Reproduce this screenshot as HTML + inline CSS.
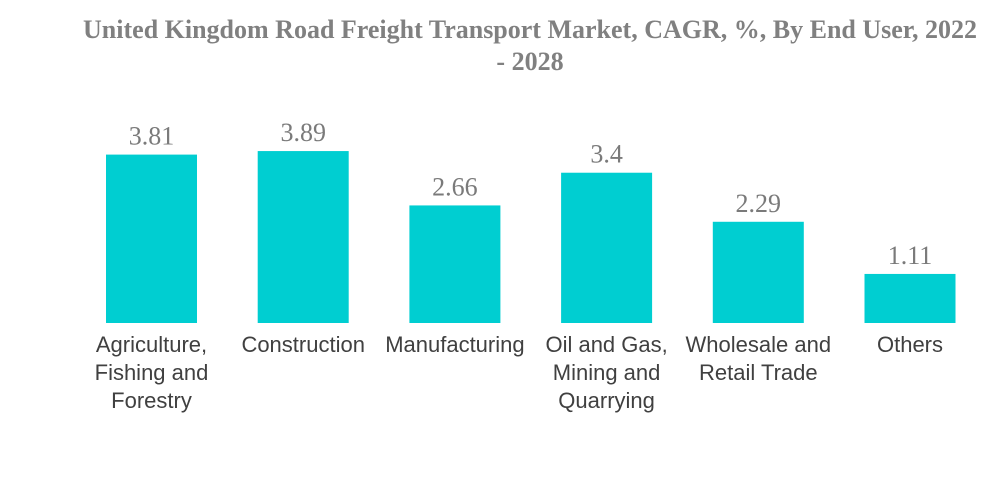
<!DOCTYPE html>
<html><head><meta charset="utf-8"><style>
body{margin:0;background:#fff;width:1000px;height:483px;overflow:hidden}
</style></head><body>
<svg id="chart" width="1000" height="483" xmlns="http://www.w3.org/2000/svg">
<text x="530" y="38" text-anchor="middle" font-family="Liberation Serif, serif" font-weight="bold" font-size="26" fill="#808080">United Kingdom Road Freight Transport Market, CAGR, %, By End User, 2022</text>
<text x="530" y="70" text-anchor="middle" font-family="Liberation Serif, serif" font-weight="bold" font-size="26" fill="#808080">- 2028</text>
<g id="bars"></g>
</svg>
<script>
const categories = [["Agriculture,","Fishing and","Forestry"],["Construction"],["Manufacturing"],["Oil and Gas,","Mining and","Quarrying"],["Wholesale and","Retail Trade"],["Others"]];
const values = [3.81, 3.89, 2.66, 3.4, 2.29, 1.11];
const valueLabels = ["3.81","3.89","2.66","3.4","2.29","1.11"];
const NS="http://www.w3.org/2000/svg";
const baseY=323, pxPerUnit=44.2, x0=106, step=151.7, bw=91;
function xPos(i){return x0+i*step;}
function yPos(v){return baseY-v*pxPerUnit;}
const g=document.getElementById('bars');
values.forEach((v,i)=>{
  const r=document.createElementNS(NS,'rect');
  r.setAttribute('x',xPos(i));r.setAttribute('y',yPos(v));
  r.setAttribute('width',bw);r.setAttribute('height',baseY-yPos(v));
  r.setAttribute('fill','#00CED1');
  
  
  g.appendChild(r);
  const t=document.createElementNS(NS,'text');
  t.setAttribute('x',xPos(i)+bw/2);t.setAttribute('y',yPos(v)-10);
  t.setAttribute('text-anchor','middle');t.setAttribute('font-family','Liberation Serif, serif');
  t.setAttribute('font-size','26');t.setAttribute('fill','#7a7a7a');
  t.textContent=valueLabels[i];
  
  
  g.appendChild(t);
  categories[i].forEach((line,j)=>{
    const c=document.createElementNS(NS,'text');
    c.setAttribute('x',xPos(i)+bw/2);c.setAttribute('y',352+j*28);
    c.setAttribute('text-anchor','middle');c.setAttribute('font-family','Liberation Sans, sans-serif');
    c.setAttribute('font-size','22');c.setAttribute('fill','#404040');
    c.textContent=line;
    
    
    g.appendChild(c);
  });
});
</script>
</body></html>
